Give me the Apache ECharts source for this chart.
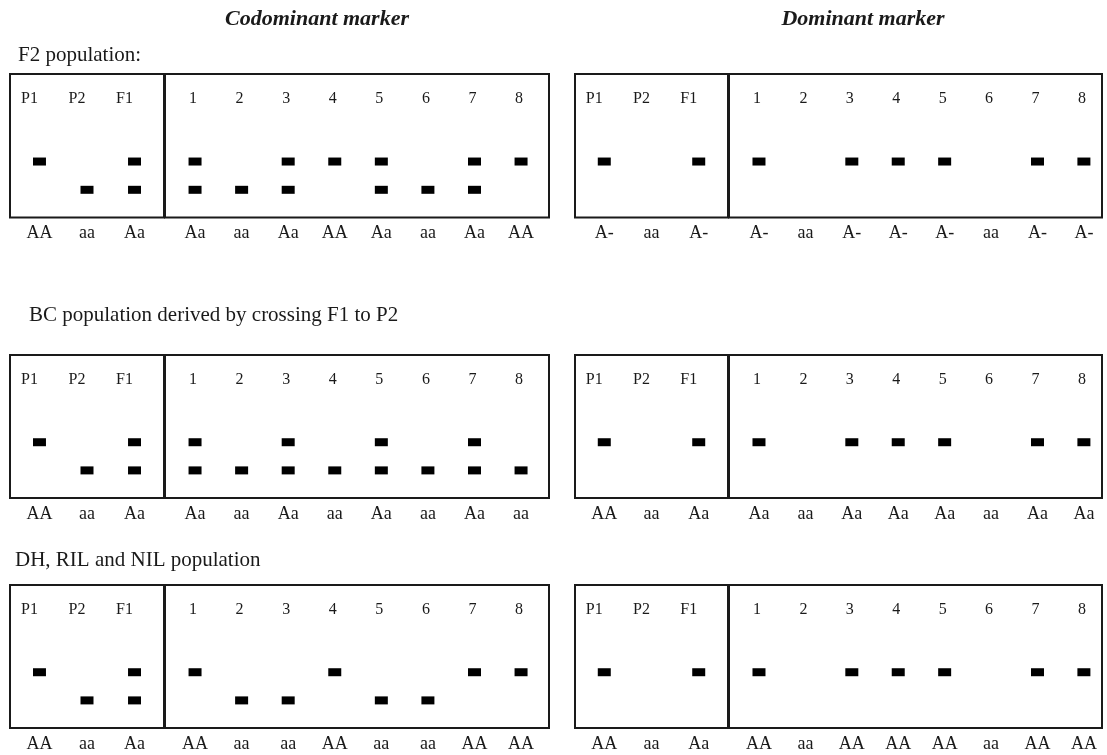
<!DOCTYPE html>
<html>
<head>
<meta charset="utf-8">
<style>
  html, body { margin: 0; padding: 0; background: #ffffff; }
  #chart { width: 1107px; height: 755px; }
</style>
<script src="https://cdn.jsdelivr.net/npm/echarts@6/dist/echarts.min.js"></script>
</head>
<body>
<div id="chart"></div>
<script>
// ---------------- data ----------------
const lanes = ['P1', 'P2', 'F1', '1', '2', '3', '4', '5', '6', '7', '8'];
const parentCount = 3;

// allele migration levels (upper band = allele A, lower band = allele a)
const alleleLevels = [3.9, 1.93];

// F2 population
const f2CodomUpper = [1, 0, 1, 1, 0, 1, 1, 1, 0, 1, 1];
const f2CodomLower = [0, 1, 1, 1, 1, 1, 0, 1, 1, 1, 0];
const f2CodomGeno  = ['AA', 'aa', 'Aa', 'Aa', 'aa', 'Aa', 'AA', 'Aa', 'aa', 'Aa', 'AA'];
const f2DomUpper   = [1, 0, 1, 1, 0, 1, 1, 1, 0, 1, 1];
const f2DomLower   = [0, 0, 0, 0, 0, 0, 0, 0, 0, 0, 0];
const f2DomGeno    = ['A-', 'aa', 'A-', 'A-', 'aa', 'A-', 'A-', 'A-', 'aa', 'A-', 'A-'];

// BC population (F1 x P2)
const bcCodomUpper = [1, 0, 1, 1, 0, 1, 0, 1, 0, 1, 0];
const bcCodomLower = [0, 1, 1, 1, 1, 1, 1, 1, 1, 1, 1];
const bcCodomGeno  = ['AA', 'aa', 'Aa', 'Aa', 'aa', 'Aa', 'aa', 'Aa', 'aa', 'Aa', 'aa'];
const bcDomUpper   = [1, 0, 1, 1, 0, 1, 1, 1, 0, 1, 1];
const bcDomLower   = [0, 0, 0, 0, 0, 0, 0, 0, 0, 0, 0];
const bcDomGeno    = ['AA', 'aa', 'Aa', 'Aa', 'aa', 'Aa', 'Aa', 'Aa', 'aa', 'Aa', 'Aa'];

// DH, RIL and NIL population
const dhCodomUpper = [1, 0, 1, 1, 0, 0, 1, 0, 0, 1, 1];
const dhCodomLower = [0, 1, 1, 0, 1, 1, 0, 1, 1, 0, 0];
const dhCodomGeno  = ['AA', 'aa', 'Aa', 'AA', 'aa', 'aa', 'AA', 'aa', 'aa', 'AA', 'AA'];
const dhDomUpper   = [1, 0, 1, 1, 0, 1, 1, 1, 0, 1, 1];
const dhDomLower   = [0, 0, 0, 0, 0, 0, 0, 0, 0, 0, 0];
const dhDomGeno    = ['AA', 'aa', 'Aa', 'AA', 'aa', 'AA', 'AA', 'AA', 'aa', 'AA', 'AA'];

const headings = ['Codominant marker', 'Dominant marker'];
const populationTitles = ['F2 population:', 'BC population derived by crossing F1 to P2', 'DH, RIL and NIL population'];

// ---------------- layout ----------------
const SERIF = "'Liberation Serif', 'Times New Roman', serif";
const INK = '#1a1a1a';
const rows = [
  { top: 74, height: 143.5 },
  { top: 355, height: 143 },
  { top: 585, height: 143 }
];
const columns = [
  { parents: { left: 10, width: 154, min: -0.62, max: 2.62 },
    progeny: { left: 165, width: 384, min: -0.645, max: 7.6 } },
  { parents: { left: 575, width: 153, min: -0.62, max: 2.62 },
    progeny: { left: 729, width: 373, min: -0.646, max: 7.39 } }
];
const panels = [
  [ { up: f2CodomUpper, low: f2CodomLower, geno: f2CodomGeno },
    { up: f2DomUpper, low: f2DomLower, geno: f2DomGeno } ],
  [ { up: bcCodomUpper, low: bcCodomLower, geno: bcCodomGeno },
    { up: bcDomUpper, low: bcDomLower, geno: bcDomGeno } ],
  [ { up: dhCodomUpper, low: dhCodomLower, geno: dhCodomGeno },
    { up: dhDomUpper, low: dhDomLower, geno: dhDomGeno } ]
];

const option = {
  animation: false,
  backgroundColor: '#ffffff',
  grid: [], xAxis: [], yAxis: [], series: [], graphic: []
};

function addBox(row, box, indices, panel, isParents) {
  const g = option.grid.length;
  option.grid.push({
    left: box.left, top: row.top, width: box.width, height: row.height,
    show: true, borderColor: INK, borderWidth: 2, backgroundColor: 'transparent'
  });
  const names = indices.map(i => lanes[i]);
  const genos = indices.map(i => panel.geno[i]);
  const positions = indices.map((_, k) => k);
  // lane names along the top, inside the box
  option.xAxis.push({
    type: 'value', gridIndex: g, position: 'top', min: box.min, max: box.max,
    axisLine: { show: false }, axisTick: { show: false }, splitLine: { show: false },
    axisLabel: {
      inside: true, margin: 17, customValues: positions,
      formatter: v => names[Math.round(v)] || '',
      fontFamily: SERIF, fontSize: 16, color: INK,
      padding: isParents ? [0, 20, 0, 0] : [0, 4, 0, 0]
    }
  });
  // genotype labels below the box
  option.xAxis.push({
    type: 'value', gridIndex: g, position: 'bottom', min: box.min, max: box.max,
    axisLine: { show: false }, axisTick: { show: false }, splitLine: { show: false },
    axisLabel: {
      margin: 7, customValues: positions,
      formatter: v => genos[Math.round(v)] || '',
      fontFamily: SERIF, fontSize: 18, color: INK
    }
  });
  option.yAxis.push({ type: 'value', gridIndex: g, min: 0, max: 10, show: false });
  const data = [];
  indices.forEach((laneIdx, k) => {
    if (panel.up[laneIdx]) data.push([k, alleleLevels[0]]);
    if (panel.low[laneIdx]) data.push([k, alleleLevels[1]]);
  });
  option.series.push({
    type: 'scatter', xAxisIndex: option.xAxis.length - 2, yAxisIndex: g,
    symbol: 'rect', symbolSize: [13, 8], silent: true,
    itemStyle: { color: '#000000', opacity: 1 }, data: data
  });
}

const parentIdx = lanes.map((_, i) => i).filter(i => i < parentCount);
const progenyIdx = lanes.map((_, i) => i).filter(i => i >= parentCount);

rows.forEach((row, r) => {
  columns.forEach((col, c) => {
    addBox(row, col.parents, parentIdx, panels[r][c], true);
    addBox(row, col.progeny, progenyIdx, panels[r][c], false);
  });
});

// headings
const headingX = [317, 863];
headings.forEach((t, i) => {
  option.graphic.push({
    type: 'text', x: headingX[i], y: 19, silent: true,
    style: { text: t, fill: INK, font: 'italic bold 22px ' + SERIF, align: 'center', verticalAlign: 'middle' }
  });
});
const titlePos = [[18, 55], [29, 315], [15, 560]];
populationTitles.forEach((t, i) => {
  option.graphic.push({
    type: 'text', x: titlePos[i][0], y: titlePos[i][1], silent: true,
    style: { text: t, fill: INK, font: '21px ' + SERIF, align: 'left', verticalAlign: 'middle' }
  });
});

const chart = echarts.init(document.getElementById('chart'));
chart.setOption(option);
</script>
</body>
</html>
